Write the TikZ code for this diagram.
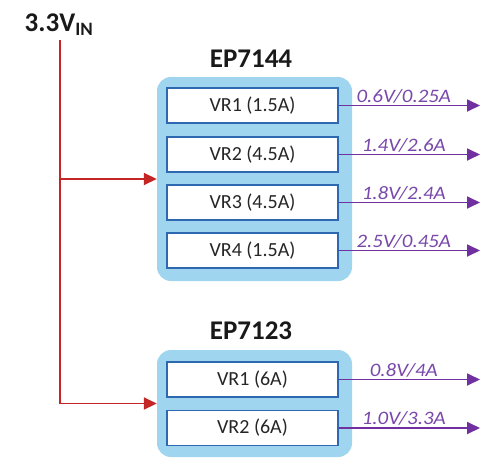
\documentclass[tikz,border=0pt]{standalone}
\usepackage{fontspec}
\setmainfont{Carlito}
\usetikzlibrary{arrows.meta}
\definecolor{chipfill}{RGB}{160,213,240}
\definecolor{vrblue}{RGB}{46,104,176}
\definecolor{redline}{RGB}{196,38,38}
\definecolor{purpleline}{RGB}{112,48,160}
\definecolor{purpletext}{RGB}{120,72,170}
\newcommand{\wide}[1]{\scalebox{1.1}[1]{#1}}
\begin{document}
\begin{tikzpicture}[x=1pt,y=-1pt,
  chipbox/.style={fill=chipfill,rounded corners=14pt,minimum width=195pt,inner sep=0pt},
  vrbox/.style={draw=vrblue,line width=1.8pt,fill=white,minimum width=171pt,minimum height=35pt,inner sep=0pt,font=\fontsize{20}{22}\selectfont,text=black!85},
  chiplabel/.style={font=\fontsize{27}{30}\selectfont\bfseries,text=black!90},
  feed/.style={draw=redline,line width=1.8pt,-{Triangle[length=13pt,width=12pt]}},
  outarrow/.style={draw=purpleline,line width=1.8pt,-{Triangle[length=13pt,width=12pt]}},
  outlabel/.style={font=\fontsize{19}{21}\selectfont\itshape,text=purpletext,inner sep=1.5pt,above}
]
\useasboundingbox (0,0) rectangle (481,460);
\node[font=\fontsize{27}{29}\selectfont\bfseries,text=black!90] (vin) at (59,25) {3.3V\textsubscript{IN}};
\node[chiplabel] (ep1) at (251,59) {EP7144};
\node[chipbox,minimum height=204pt] (chip1) at (254.5,179) {};
\node[vrbox] (a1) at (252.5,105.5) {VR1 (1.5A)};
\node[vrbox] (a2) at (252.5,154.5) {VR2 (4.5A)};
\node[vrbox] (a3) at (252.5,202.5) {VR3 (4.5A)};
\node[vrbox] (a4) at (252.5,250.5) {VR4 (1.5A)};
\node[chiplabel] (ep2) at (251,331) {EP7123};
\node[chipbox,minimum height=107pt] (chip2) at (254.5,403.5) {};
\node[vrbox] (b1) at (252.5,379.5) {VR1 (6A)};
\node[vrbox] (b2) at (252.5,428) {VR2 (6A)};
\coordinate (top) at (60,40);
\coordinate (br1) at (60,179);
\foreach \n/\y in {oa1/105.5,oa2/154.5,oa3/202.5,oa4/250.5,ob1/379.5,ob2/428}
  \coordinate (\n) at (480,\y);
\draw[feed] (top) |- (chip2.west);
\draw[feed] (br1) -- (chip1.west);
\draw[outarrow] (a1.east) -- node[outlabel,pos=0.46] {\wide{0.6V/0.25A}} (oa1);
\draw[outarrow] (a2.east) -- node[outlabel,pos=0.46] {\wide{1.4V/2.6A}} (oa2);
\draw[outarrow] (a3.east) -- node[outlabel,pos=0.46] {\wide{1.8V/2.4A}} (oa3);
\draw[outarrow] (a4.east) -- node[outlabel,pos=0.46] {\wide{2.5V/0.45A}} (oa4);
\draw[outarrow] (b1.east) -- node[outlabel,pos=0.46] {\wide{0.8V/4A}} (ob1);
\draw[outarrow] (b2.east) -- node[outlabel,pos=0.46] {\wide{1.0V/3.3A}} (ob2);
\end{tikzpicture}
\end{document}
